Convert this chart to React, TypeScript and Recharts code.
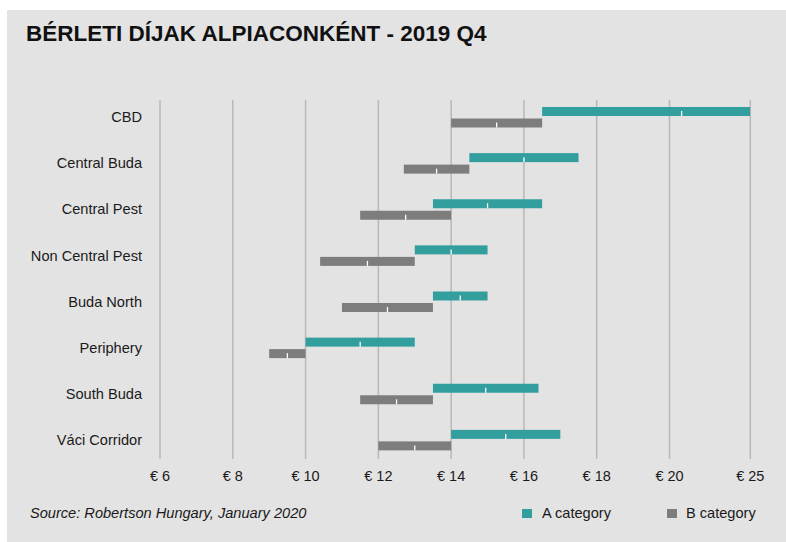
import React from 'react';
import { BarChart, Bar, XAxis, YAxis, CartesianGrid } from 'recharts';

const categories = ['CBD', 'Central Buda', 'Central Pest', 'Non Central Pest', 'Buda North', 'Periphery', 'South Buda', 'Váci Corridor'];
const aLow = [16.5, 14.5, 13.5, 13, 13.5, 10, 13.5, 14];
const aHigh = [25, 17.5, 16.5, 15, 15, 13, 16.4, 17];
const bLow = [14, 12.7, 11.5, 10.4, 11, 9, 11.5, 12];
const bHigh = [16.5, 14.5, 14, 13, 13.5, 10, 13.5, 14];
const tickValues = [6, 8, 10, 12, 14, 16, 18, 20, 25];
const tickLabels = ['€ 6', '€ 8', '€ 10', '€ 12', '€ 14', '€ 16', '€ 18', '€ 20', '€ 25'];

// axis break: the last step (20 -> 25) is drawn only slightly wider than a 2-euro step
const BREAK_AT = 20;
const BREAK_RATIO = 2.22 / 5;
const pos = (v: number) => (v <= BREAK_AT ? v : BREAK_AT + (v - BREAK_AT) * BREAK_RATIO);

const data = categories.map((name, i) => ({
  name,
  a: [pos(aLow[i]), pos(aHigh[i])],
  aMid: pos((aLow[i] + aHigh[i]) / 2),
  b: [pos(bLow[i]), pos(bHigh[i])],
  bMid: pos((bLow[i] + bHigh[i]) / 2),
}));

const tickPositions = tickValues.map(pos);
const labelFor = (p: number) => {
  const idx = tickPositions.findIndex((t) => Math.abs(t - p) < 1e-6);
  return idx >= 0 ? tickLabels[idx] : '';
};

const TEAL = '#339e9e';
const GREY = '#7d7d7d';
const FONT = '"Liberation Sans", Arial, sans-serif';

const makeShape = (key: 'a' | 'b', midKey: 'aMid' | 'bMid') => (props: any) => {
  const { x, y, width, height, fill, payload } = props;
  const [lo, hi] = payload[key];
  const frac = (payload[midKey] - lo) / (hi - lo);
  const mx = x + frac * width;
  return (
    <g>
      <rect x={x} y={y} width={width} height={height} fill={fill} />
      <line x1={mx} x2={mx} y1={y + height * 0.45} y2={y + height} stroke="#ffffff" strokeWidth={1.3} />
    </g>
  );
};

const GridLine = (props: any) => {
  const { x1, x2, y1, y2 } = props;
  return <line x1={x1} x2={x2} y1={y1 + 6} y2={y2 - 4} stroke="#b8b8b8" strokeWidth={1.5} />;
};

export default function App() {
  return (
    <div style={{ position: 'absolute', left: 0, top: 0, width: 786, height: 542, background: '#ffffff', fontFamily: FONT }}>
      <div style={{ position: 'absolute', left: 7, top: 10, width: 779, height: 532, background: '#e3e3e3' }} />
      <div
        style={{
          position: 'absolute',
          left: 26,
          top: 22,
          fontSize: 22.5,
          lineHeight: '23px',
          fontWeight: 'bold',
          color: '#111111',
          whiteSpace: 'nowrap',
        }}
      >
        BÉRLETI DÍJAK ALPIACONKÉNT - 2019 Q4
      </div>
      <div style={{ position: 'absolute', left: 0, top: 0 }}>
        <BarChart
          width={786}
          height={542}
          data={data}
          layout="vertical"
          margin={{ top: 94, right: 35.7, bottom: 49, left: 0 }}
          barSize={9}
          barGap={2.5}
        >
          <CartesianGrid horizontal={false} vertical={GridLine as any} />
          <XAxis
            type="number"
            domain={[6, pos(25)]}
            ticks={tickPositions}
            tickFormatter={labelFor}
            allowDataOverflow
            axisLine={false}
            tickLine={false}
            tickSize={0}
            tickMargin={8}
            height={30}
            interval={0}
            tick={{ fontSize: 14.5, fill: '#1a1a1a', fontFamily: FONT }}
          />
          <YAxis
            type="category"
            dataKey="name"
            width={160}
            axisLine={false}
            tickLine={false}
            tickSize={0}
            tickMargin={18}
            interval={0}
            tick={{ fontSize: 14.6, fill: '#1a1a1a', fontFamily: FONT }}
          />
          <Bar dataKey="a" fill={TEAL} isAnimationActive={false} shape={makeShape('a', 'aMid')} />
          <Bar dataKey="b" fill={GREY} isAnimationActive={false} shape={makeShape('b', 'bMid')} />
        </BarChart>
      </div>
      <div
        style={{
          position: 'absolute',
          left: 30,
          top: 506,
          fontSize: 14.6,
          lineHeight: '15px',
          fontStyle: 'italic',
          color: '#1a1a1a',
          whiteSpace: 'nowrap',
        }}
      >
        Source: Robertson Hungary, January 2020
      </div>
      <div style={{ position: 'absolute', left: 522, top: 509, width: 10, height: 9, background: TEAL }} />
      <div style={{ position: 'absolute', left: 542, top: 506, fontSize: 14.6, lineHeight: '15px', color: '#1a1a1a', whiteSpace: 'nowrap' }}>
        A category
      </div>
      <div style={{ position: 'absolute', left: 667, top: 509, width: 10, height: 9, background: GREY }} />
      <div style={{ position: 'absolute', left: 686, top: 506, fontSize: 14.6, lineHeight: '15px', color: '#1a1a1a', whiteSpace: 'nowrap' }}>
        B category
      </div>
    </div>
  );
}
